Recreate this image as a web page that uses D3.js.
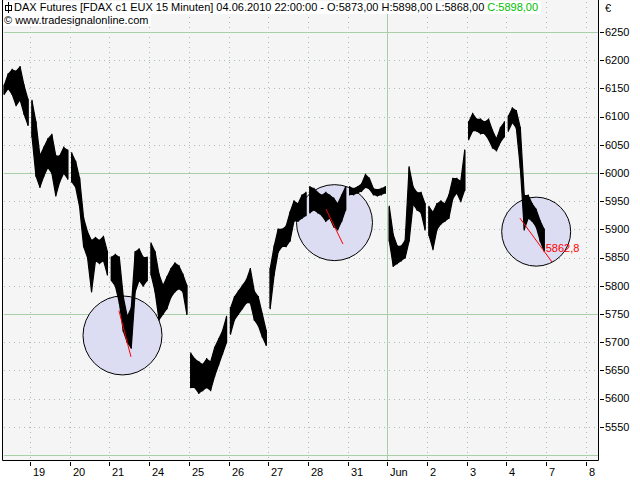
<!DOCTYPE html>
<html><head><meta charset="utf-8">
<script src="https://cdn.jsdelivr.net/npm/d3@7"></script>
<style>
body{margin:0;background:#fff}
svg{display:block}
text{font-family:"Liberation Sans",Arial,sans-serif;font-size:11px}
</style>
</head><body>
<svg id="c" width="640" height="480"></svg>
<script>
// ---- data ----
// trading sessions (index 0 = 18 May 2010, partly visible)
const dayLabels = ["18","19","20","21","24","25","26","27","28","31","Jun","2","3","4","7","8"];
const samplesPerDay = 10;          // envelope samples per session
const firstSample = [3,0,0,0,0,0,0,0,0,0,0,0,0,0];
const highs = [
  [6155,6175,6183,6180,6188,6155,6130],
  [6128,6090,6030,6045,6060,6068,6030,6030,6045,6040],
  [6035,6020,5990,5920,5895,5880,5885,5880,5887,5860],
  [5850,5855,5850,5780,5745,5760,5860,5865,5850,5850],
  [5875,5860,5820,5800,5815,5830,5840,5835,5820,5800],
  [5680,5670,5665,5660,5670,5665,5690,5705,5720,5745],
  [5760,5780,5790,5800,5810,5830,5790,5780,5750,5720],
  [5830,5870,5900,5900,5905,5930,5950,5945,5960,5965],
  [5975,5972,5965,5960,5965,5960,5955,5945,5960,5975],
  [5975,5972,5975,5980,5997,5990,5972,5970,5972,5975],
  [5940,5890,5870,5870,5880,6010,5975,5965,5965,5945],
  [5940,5930,5945,5950,5945,5960,5990,5990,5985,6040],
  [6090,6105,6095,6095,6090,6095,6075,6060,6080,6090],
  [6100,6115,6110,6080,5960,5960,5945,5935,5915,5900]
];
const lows = [
  [6140,6150,6140,6120,6130,6105,6085],
  [6065,5995,5975,5995,6010,6000,5960,5985,6000,5990],
  [5985,5975,5940,5870,5850,5790,5845,5840,5845,5820],
  [5810,5800,5770,5720,5700,5690,5790,5810,5800,5810],
  [5820,5790,5740,5750,5760,5780,5790,5795,5790,5750],
  [5620,5620,5610,5615,5620,5615,5640,5660,5680,5700],
  [5715,5740,5750,5760,5770,5770,5740,5730,5710,5695],
  [5760,5820,5860,5870,5870,5880,5915,5915,5920,5925],
  [5930,5935,5930,5925,5915,5920,5905,5900,5915,5935],
  [5962,5962,5965,5968,5975,5972,5962,5960,5962,5965],
  [5880,5835,5840,5845,5850,5880,5945,5935,5930,5900],
  [5890,5865,5900,5910,5915,5920,5955,5965,5950,5970],
  [6060,6075,6075,6070,6070,6060,6045,6040,6055,6065],
  [6075,6090,6080,6010,5900,5920,5915,5905,5880,5862]
];
const yTickValues = d3.range(5550, 6251, 50);
const yMajorValues = [5500, 5750, 6000, 6250];
const monthStartDay = 10;          // "Jun"
const highlightCircles = [
  {day: 3.33, value: 5712, r: 39.5},
  {day: 8.67, value: 5912, r: 38},
  {day: 13.75, value: 5896, r: 34.5}
];
const trendLines = [
  {d1: 3.24, v1: 5756, d2: 3.544, v2: 5674},
  {d1: 8.456, v1: 5936, d2: 8.884, v2: 5874},
  {d1: 13.34, v1: 5920, d2: 14.15, v2: 5842}
];
const priceLabel = {day: 13.99, value: 5866, text: "5862,8"};
const titleText = "DAX Futures [FDAX c1 EUX  15 Minuten] 04.06.2010 22:00:00 - O:5873,00 H:5898,00 L:5868,00 ";
const titleClose = "C:5898,00";
const copyright = "\u00A9 www.tradesignalonline.com";

// ---- layout ----
const svg = d3.select("#c");
const plot = {left: 2, right: 598, top: 0, bottom: 460};
const x = d3.scaleLinear().domain([0, 16]).range([-9.7, 625.5]);
const y = d3.scaleLinear().domain([5500, 6250]).range([455, 32]);

svg.append("rect").attr("x",0).attr("y",0).attr("width",640).attr("height",480).attr("fill","#fff");
svg.append("rect").attr("x",plot.left).attr("y",plot.top)
  .attr("width",plot.right-plot.left).attr("height",plot.bottom-plot.top).attr("fill","#f5f5f5");

svg.append("defs").append("clipPath").attr("id","clip").append("rect")
  .attr("x",plot.left).attr("y",plot.top).attr("width",plot.right-plot.left).attr("height",plot.bottom-plot.top);
const g = svg.append("g").attr("clip-path","url(#clip)");

// grid
const dayTicks = d3.range(1, dayLabels.length);
g.selectAll(".vg").data(dayTicks).join("line")
  .attr("x1",d=>Math.round(x(d))+0.5).attr("x2",d=>Math.round(x(d))+0.5)
  .attr("y1",plot.top+2).attr("y2",plot.bottom)
  .attr("stroke",d=>d===monthStartDay?"#a9cfa9":"#a9bda9")
  .attr("stroke-dasharray",d=>d===monthStartDay?null:"1,4");
g.selectAll(".hg").data(yTickValues.concat([5500])).join("line")
  .attr("x1",plot.left+2).attr("x2",plot.right)
  .attr("y1",d=>Math.round(y(d))+0.5).attr("y2",d=>Math.round(y(d))+0.5)
  .attr("stroke",d=>yMajorValues.includes(d)?"#a9cfa9":"#a9bda9")
  .attr("stroke-dasharray",d=>yMajorValues.includes(d)?null:"1,4");

// circles
g.selectAll(".hc").data(highlightCircles).join("circle")
  .attr("cx",d=>x(d.day)).attr("cy",d=>y(d.value)).attr("r",d=>d.r)
  .attr("fill","#dcdcf2").attr("stroke","#000").attr("stroke-width",1);

// price envelope per session
const area = d3.area()
  .x(d=>x(d.t)).y0(d=>y(d.lo)).y1(d=>y(d.hi));
highs.forEach((hs, di) => {
  const pts = hs.map((h, i) => {
    const k = i + firstSample[di];
    return {t: di + (k + 0.5) / samplesPerDay, hi: h, lo: lows[di][i]};
  });
  g.append("path").datum(pts).attr("d", area)
    .attr("fill","#000").attr("stroke","#000").attr("stroke-width",1.2).attr("stroke-linejoin","bevel");
  g.selectAll(null).data(pts).join("line")
    .attr("x1",d=>x(d.t)).attr("x2",d=>x(d.t))
    .attr("y1",d=>y(d.hi)-1).attr("y2",d=>y(d.lo)+1)
    .attr("stroke","#000").attr("stroke-width",1.2);
});

// trend lines
g.selectAll(".tl").data(trendLines).join("line")
  .attr("x1",d=>x(d.d1)).attr("y1",d=>y(d.v1)).attr("x2",d=>x(d.d2)).attr("y2",d=>y(d.v2))
  .attr("stroke","#ff0000").attr("stroke-width",1);
g.append("text").attr("x",x(priceLabel.day)).attr("y",y(priceLabel.value)).attr("dy","0.35em")
  .attr("fill","#ff0000").text(priceLabel.text);

// border
svg.append("path")
  .attr("d",`M${plot.left+0.5},${plot.top} V${plot.bottom+0.5} H${plot.right+0.5} V${plot.top}`)
  .attr("fill","none").attr("stroke","#000");

// y axis (right)
const yAxis = svg.append("g");
yAxis.selectAll("line").data(yTickValues).join("line")
  .attr("x1",plot.right+2).attr("x2",plot.right+6)
  .attr("y1",d=>Math.round(y(d))+0.5).attr("y2",d=>Math.round(y(d))+0.5).attr("stroke","#000");
yAxis.selectAll("text").data(yTickValues).join("text")
  .attr("x",plot.right+7).attr("y",d=>y(d)).attr("dy","0.35em").attr("fill","#000").text(d=>d);
svg.append("text").attr("x",605).attr("y",8).attr("dy","0.35em").text("\u20AC");

// x axis
const xAxis = svg.append("g");
xAxis.selectAll("line").data(dayTicks).join("line")
  .attr("x1",d=>Math.round(x(d))+0.5).attr("x2",d=>Math.round(x(d))+0.5)
  .attr("y1",plot.bottom+2).attr("y2",plot.bottom+6).attr("stroke","#000");
xAxis.selectAll("text").data(dayTicks).join("text")
  .attr("x",d=>Math.round(x(d))+3).attr("y",472).attr("dy","0.35em").attr("fill","#000")
  .text(d=>dayLabels[d]);

// title
svg.append("rect").attr("x",3).attr("y",1).attr("width",538).attr("height",13).attr("fill","#fff");
svg.append("rect").attr("x",3).attr("y",14).attr("width",148).attr("height",12).attr("fill","#fff");
const icon = svg.append("g").attr("stroke","#000");
icon.append("line").attr("x1",8.5).attr("x2",8.5).attr("y1",2).attr("y2",13);
icon.append("rect").attr("x",5.5).attr("y",5.5).attr("width",6).attr("height",5).attr("fill","none");
const t1 = svg.append("text").attr("x",14).attr("y",7.5).attr("dy","0.35em").attr("fill","#000");
t1.append("tspan").text(titleText);
t1.append("tspan").attr("fill","#00c000").text(titleClose);
svg.append("text").attr("x",4).attr("y",20.5).attr("dy","0.35em").attr("fill","#000").text(copyright);
</script>
</body></html>
